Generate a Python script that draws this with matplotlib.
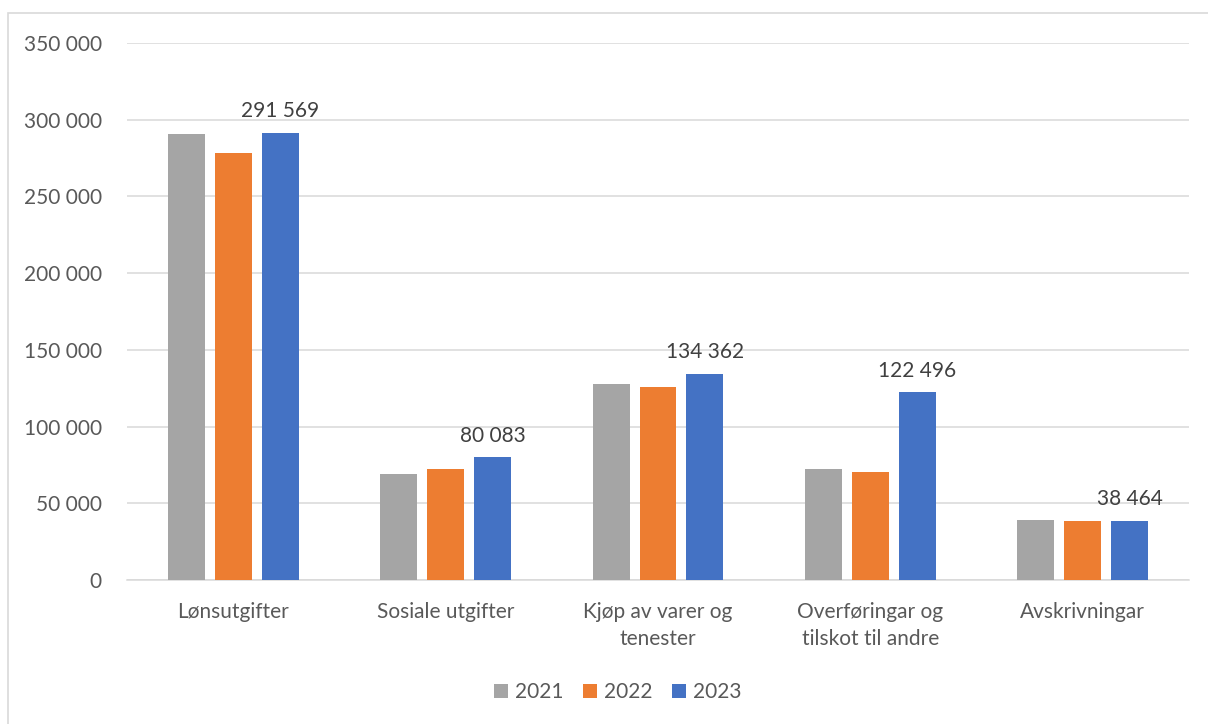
import numpy as np
import matplotlib.pyplot as plt
from matplotlib.patches import Rectangle

# data
categories = ["Lønsutgifter", "Sosiale utgifter", "Kjøp av varer og\ntenester",
              "Overføringar og\ntilskot til andre", "Avskrivningar"]
years = ["2021", "2022", "2023"]
v2021 = [290500, 69100, 127700, 72300, 39100]
v2022 = [278300, 72300, 125800, 70400, 38500]
v2023 = [291569, 80083, 134362, 122496, 38464]
colors = ["#a5a5a5", "#ed7d31", "#4472c4"]

plt.rcParams['font.family'] = ['Lato', 'DejaVu Sans']
fs = 15

fig = plt.figure(figsize=(12.08, 7.24), dpi=100)
ax = fig.add_axes([127/1208, 1-580/724, 1062/1208, 537/724])

# outer frame of the chart box
fig.patches.append(Rectangle((8/1208, -0.1), 1.2, 1-13/724+0.1, transform=fig.transFigure,
                             fill=False, edgecolor="#d9d9d9", linewidth=1.2))

x = np.arange(len(categories))
w = 0.174
step = 0.221
series = [v2021, v2022, v2023]
for i, vals in enumerate(series):
    ax.bar(x + (i-1)*step, vals, width=w, color=colors[i], label=years[i], zorder=3)

# labels only on the 2023 bars
for xi, v in zip(x, v2023):
    ax.text(xi + step, v + 7500, f"{v:,}".replace(",", " "), ha="center", va="bottom",
            fontsize=fs, color="#404040")

ax.set_xlim(-0.5, len(categories)-0.5)
ax.set_ylim(0, 350000)
ticks = np.arange(0, 350001, 50000)
ax.set_yticks(ticks)
ax.set_yticklabels([f"{t:,}".replace(",", " ") for t in ticks])
ax.set_xticks(x)
ax.set_xticklabels(categories, linespacing=1.4)
ax.tick_params(axis="both", length=0, labelsize=fs, labelcolor="#595959")
ax.tick_params(axis="y", pad=18)
ax.tick_params(axis="x", pad=16)
ax.yaxis.grid(True, color="#d9d9d9", linewidth=1.1, zorder=0)
for s in ["top", "right", "left"]:
    ax.spines[s].set_visible(False)
ax.spines["bottom"].set_color("#d9d9d9")
ax.spines["bottom"].set_linewidth(1.1)

leg = ax.legend(loc="center", bbox_to_anchor=(618/1208, 1-692/724), bbox_transform=fig.transFigure,
                ncol=3, frameon=False, fontsize=fs, handlelength=0.65, handleheight=0.65,
                handletextpad=0.35, columnspacing=0.95)
for t in leg.get_texts():
    t.set_color("#595959")

fig.savefig("out.png", dpi=100)
